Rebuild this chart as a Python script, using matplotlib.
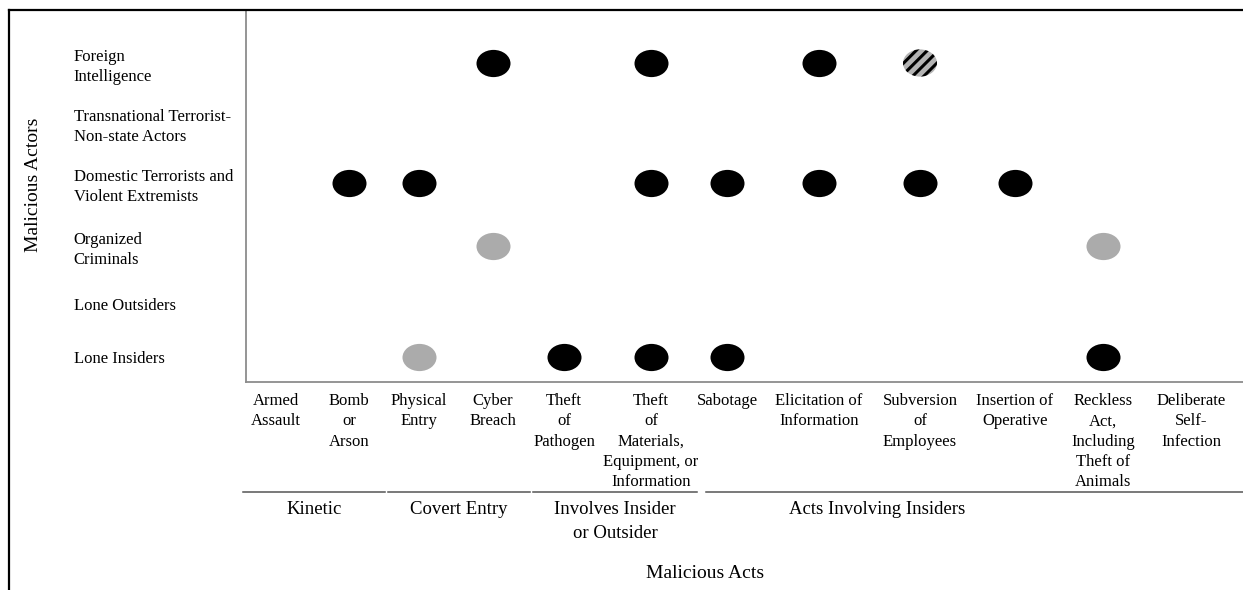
import matplotlib.pyplot as plt
from matplotlib.path import Path
from matplotlib.transforms import Affine2D
from matplotlib.lines import Line2D

actors = ['Foreign\nIntelligence', 'Transnational Terrorist-\nNon-state Actors',
          'Domestic Terrorists and\nViolent Extremists', 'Organized\nCriminals',
          'Lone Outsiders', 'Lone Insiders']
acts = ['Armed\nAssault', 'Bomb\nor\nArson', 'Physical\nEntry', 'Cyber\nBreach',
        'Theft\nof\nPathogen', 'Theft\nof\nMaterials,\nEquipment, or\nInformation',
        'Sabotage', 'Elicitation of\nInformation', 'Subversion\nof\nEmployees',
        'Insertion of\nOperative', 'Reckless\nAct,\nIncluding\nTheft of\nAnimals',
        'Deliberate\nSelf-\nInfection']
groups = ['Kinetic', 'Covert Entry', 'Involves Insider\nor Outsider', 'Acts Involving Insiders']

# (actor index, act index)
black_pts = [(0, 3), (0, 5), (0, 7),
             (2, 1), (2, 2), (2, 5), (2, 6), (2, 7), (2, 8), (2, 9),
             (5, 4), (5, 5), (5, 6), (5, 10)]
gray_pts = [(3, 3), (3, 10), (5, 2)]
hatch_pts = [(0, 8)]

# layout (pixel offsets inside the axes)
col_pos = [30, 103, 173, 247, 318, 405, 481, 573, 674, 769, 857, 945]
row_pos = [53, 113, 173, 236, 294, 347]
group_span = [(-3, 139), (142, 284), (287, 451), (460, 997)]
group_lab_x = [68, 213, 369, 631]

plt.rcParams['font.family'] = ['Liberation Serif', 'DejaVu Serif']
plt.rcParams['hatch.linewidth'] = 2.2

W, H = 1243, 590
fig = plt.figure(figsize=(W / 100, H / 100), dpi=100)
ax = fig.add_axes([246 / W, (H - 382) / H, (W - 246) / W, 372 / H])
ax.set_xlim(0, 997)
ax.set_ylim(372, 0)

ell = Path.unit_circle().transformed(Affine2D().scale(1.0, 0.8))

def draw(pts, **kw):
    xs = [col_pos[a] for r, a in pts]
    ys = [row_pos[r] for r, a in pts]
    ax.scatter(xs, ys, marker=ell, s=600, zorder=3, **kw)

draw(black_pts, color='black', linewidths=0)
draw(gray_pts, color='#ababab', linewidths=0)
draw(hatch_pts, facecolor='#b4b4b4', edgecolor='black', linewidths=0, hatch='///')

for s in ['top', 'right']:
    ax.spines[s].set_visible(False)
for s in ['left', 'bottom']:
    ax.spines[s].set_color('#8c8c8c')
    ax.spines[s].set_linewidth(1.3)

ax.set_xticks(col_pos, labels=acts)
ax.set_yticks(row_pos, labels=actors)
ax.tick_params(length=0)
ax.tick_params(axis='x', pad=8, labelsize=12)
ax.tick_params(axis='y', pad=124, labelsize=12)
for t in ax.get_xticklabels():
    t.set_verticalalignment('top')
    t.set_linespacing(1.36)
for t in ax.get_yticklabels():
    t.set_horizontalalignment('left')
    t.set_multialignment('left')
    t.set_linespacing(1.36)

tr = ax.get_xaxis_transform()
for (x0, x1), lx, g in zip(group_span, group_lab_x, groups):
    ax.plot([x0, x1], [-110 / 372, -110 / 372], transform=tr, clip_on=False,
            color='#555555', lw=1.1)
    ax.text(lx, -119 / 372, g, transform=tr, ha='center', va='top',
            fontsize=13.5, linespacing=1.5)

fig.text(705 / W, (H - 573) / H, 'Malicious Acts', ha='center', va='center', fontsize=14)
fig.text(33 / W, (H - 185) / H, 'Malicious Actors', ha='center', va='center',
         rotation=90, fontsize=14)

# figure frame (top and left)
fig.add_artist(Line2D([9 / W, 1], [(H - 10) / H] * 2, color='black', lw=1.6))
fig.add_artist(Line2D([9 / W] * 2, [0, (H - 10) / H], color='black', lw=1.6))

fig.savefig('out.png', dpi=100)
